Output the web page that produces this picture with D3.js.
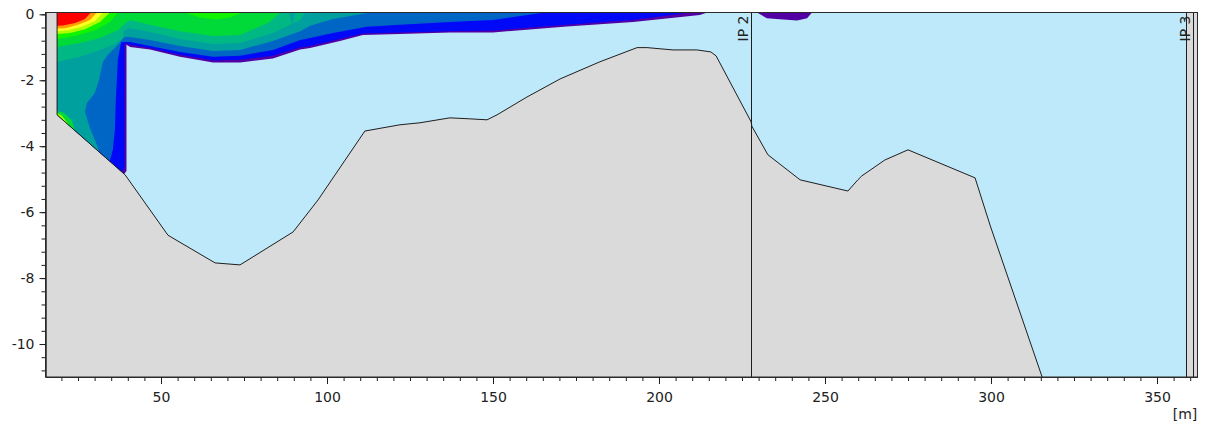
<!DOCTYPE html>
<html>
<head>
<meta charset="utf-8">
<script src="https://cdn.jsdelivr.net/npm/d3@7"></script>
<style>
  body { margin: 0; background: #fff; }
  svg { display: block; font-family: "DejaVu Sans", Verdana, sans-serif; }
</style>
</head>
<body>
<svg width="1208" height="428"></svg>
<script>
// axis ticks
const xMajor = [50, 100, 150, 200, 250, 300, 350];
const yMajor = [0, -2, -4, -6, -8, -10];

// river bed profile (station m, elevation m)
const bedX = [18.7, 39.2, 52.1, 66.3, 73.8, 89.8, 97.3, 111.4, 122.0, 128.0, 137.0, 143.0, 148.2, 151.2, 160.2, 170.2, 182.2, 193.4, 196.4, 204.2, 211.4, 215.6, 217.2, 227.7, 228.0, 232.8, 242.5, 256.9, 259.9, 261.1, 268.0, 275.0, 295.2, 299.7, 315.4];
const bedZ = [-3.05, -4.87, -6.70, -7.54, -7.60, -6.60, -5.63, -3.54, -3.35, -3.29, -3.14, -3.17, -3.20, -3.05, -2.51, -1.96, -1.44, -1.01, -1.01, -1.08, -1.08, -1.14, -1.26, -3.25, -3.40, -4.26, -5.02, -5.36, -5.02, -4.90, -4.42, -4.11, -4.96, -6.39, -11.0];

const leftX = 18.7;     // left bank
const waterEndX = 358.7;
const ipX = [227.7, 360.9];
const ipNames = ["IP 2", "IP 3"];

// contour bands, outermost first (station, elevation)
const bandPurple = [[18.7,0],[214.5,0],[212.3,-0.02],[192.2,-0.23],[172.3,-0.37],[150.0,-0.55],[137.0,-0.55],[122.0,-0.60],[110.8,-0.63],[103.9,-0.81],[94.9,-1.02],[91.9,-1.07],[83.7,-1.34],[73.8,-1.46],[65.7,-1.46],[55.7,-1.29],[46.7,-1.07],[40.7,-0.99],[39.6,-0.92],[39.6,-4.75],[38.9,-4.84],[18.7,-3.05]];
const bandBlue = [[18.7,0],[209.3,0],[192.2,-0.17],[172.3,-0.32],[150.0,-0.49],[137.0,-0.51],[122.0,-0.55],[110.8,-0.58],[103.9,-0.75],[94.9,-0.96],[91.9,-1.01],[83.7,-1.26],[73.8,-1.38],[65.7,-1.40],[55.7,-1.23],[46.7,-1.02],[40.7,-0.92],[39.0,-0.87],[39.0,-4.66],[38.2,-4.78],[18.7,-3.05]];
const bandMidBlue = [[18.7,0],[165.7,0],[150.0,-0.17],[137.0,-0.23],[122.0,-0.32],[112.0,-0.38],[101.8,-0.57],[94.9,-0.72],[91.9,-0.78],[83.7,-1.08],[73.8,-1.26],[65.7,-1.29],[55.7,-1.14],[46.7,-0.96],[40.7,-0.84],[38.0,-0.84],[37.0,-1.38],[36.4,-2.60],[36.1,-3.51],[35.5,-4.11],[34.6,-4.45],[18.7,-3.05]];
const bandTeal = [[18.7,0],[113.0,0],[101.8,-0.14],[94.9,-0.35],[91.9,-0.51],[83.7,-0.81],[73.8,-1.08],[65.7,-1.11],[55.7,-0.96],[46.7,-0.78],[40.7,-0.69],[38.9,-0.69],[37.0,-0.93],[34.0,-1.23],[32.5,-1.45],[31.3,-1.99],[30.1,-2.38],[27.7,-2.69],[27.1,-2.96],[28.6,-3.45],[30.7,-3.96],[31.3,-4.17],[18.7,-3.05]];
const bandSeaGreen = [[18.7,0],[88.6,0],[89.5,-0.33],[90.4,0],[93.4,0],[91.9,-0.17],[83.7,-0.57],[73.8,-0.87],[65.7,-0.90],[55.7,-0.75],[46.7,-0.54],[40.7,-0.42],[38.9,-0.48],[38.6,-0.72],[36.1,-0.90],[31.6,-1.08],[25.6,-1.29],[18.7,-1.45]];
const bandGreen = [[18.7,0],[85.8,0],[82.8,-0.23],[73.8,-0.63],[65.7,-0.66],[55.7,-0.51],[46.7,-0.32],[40.7,-0.17],[38.9,-0.29],[37.0,-0.48],[31.6,-0.72],[25.6,-0.87],[18.7,-0.99]];
const bandGreenSpot = [[18.7,-2.93],[20.8,-2.99],[23.2,-3.23],[24.1,-3.54],[18.7,-3.05]];
const bandBright = [[18.7,0],[37.0,0],[34.6,-0.23],[30.1,-0.48],[24.1,-0.66],[18.7,-0.75]];
const bandBrightBlob = [[57.2,0],[61.7,-0.10],[66.3,-0.16],[70.8,-0.10],[74.4,0]];
const bandLime = [[18.7,0],[34.6,0],[31.6,-0.23],[27.1,-0.45],[22.6,-0.57],[18.7,-0.60]];
const bandLimeSpot = [[18.7,-2.99],[20.2,-3.08],[22.0,-3.32],[22.3,-3.38],[18.7,-3.05]];
const bandYellow = [[18.7,0],[32.5,0],[30.1,-0.20],[26.2,-0.38],[22.0,-0.48],[18.7,-0.51]];
const bandOrange = [[18.7,0],[30.7,0],[28.6,-0.17],[25.0,-0.32],[21.1,-0.42],[18.7,-0.43]];
const bandRed = [[18.7,0],[28.9,0],[27.1,-0.14],[24.1,-0.26],[20.5,-0.34],[18.7,-0.35]];
const bandPurpleBlob = [[229.5,0],[232.5,-0.12],[236.4,-0.15],[241.6,-0.19],[244.6,-0.12],[246.1,0]];

const bands = [
  [bandPurple, "#5200a4"], [bandBlue, "#0008f8"], [bandMidBlue, "#0066c6"],
  [bandTeal, "#00a09e"], [bandSeaGreen, "#00b884"], [bandGreen, "#00da38"],
  [bandGreenSpot, "#00da38"], [bandBright, "#10f400"], [bandBrightBlob, "#10f400"],
  [bandLime, "#b0ff00"], [bandLimeSpot, "#90ff00"], [bandYellow, "#ffff20"],
  [bandOrange, "#ff9a00"], [bandRed, "#ff0000"], [bandPurpleBlob, "#5200a4"]
];

const svg = d3.select("svg");
const pLeft = 45.5, pTop = 12.5, pRight = 1197.5, pBottom = 377;
const yMax = 0.055;

const x = d3.scaleLinear().domain([15.21, 362.2]).range([pLeft, pRight]);
const y = d3.scaleLinear().domain([-11, yMax]).range([pBottom, pTop]);
// the water surface sits on the top frame
const yy = v => v >= 0 ? y(yMax) : y(v);

const shape = d3.line().x(d => x(d[0])).y(d => yy(d[1]));

svg.append("clipPath").attr("id", "plot")
  .append("rect").attr("x", pLeft).attr("y", pTop)
  .attr("width", pRight - pLeft).attr("height", pBottom - pTop);

const plot = svg.append("g").attr("clip-path", "url(#plot)");

// ground
plot.append("rect")
  .attr("x", pLeft).attr("y", pTop)
  .attr("width", pRight - pLeft).attr("height", pBottom - pTop)
  .attr("fill", "#dadada");

const bed = bedX.map((v, i) => [v, bedZ[i]]);

// water body
const water = [[leftX, 0], [waterEndX, 0], [waterEndX, -11]].concat(bed.slice().reverse());
plot.append("path")
  .attr("d", shape(water) + "Z")
  .attr("fill", "#bee9fb");

bands.forEach(([pts, col]) => {
  plot.append("path")
    .attr("d", shape(pts) + "Z")
    .attr("fill", col);
});

// bed line
plot.append("path")
  .attr("d", shape([[leftX, 0]].concat(bed)))
  .attr("fill", "none")
  .attr("stroke", "#1e1e1e")
  .attr("stroke-width", 1);

// right bank lines and IP lines
[waterEndX].concat(ipX).forEach(v => {
  plot.append("line")
    .attr("x1", Math.round(x(v)) + 0.5).attr("x2", Math.round(x(v)) + 0.5)
    .attr("y1", pTop).attr("y2", pBottom)
    .attr("stroke", "#1e1e1e");
});

ipX.forEach((v, i) => {
  const px = Math.round(x(v)) - 3;
  svg.append("text")
    .attr("transform", `translate(${px},${pTop + 3}) rotate(-90)`)
    .attr("text-anchor", "end")
    .attr("font-size", 14)
    .attr("fill", "#222")
    .text(ipNames[i]);
});

// frame
svg.append("rect")
  .attr("x", pLeft).attr("y", pTop)
  .attr("width", pRight - pLeft).attr("height", pBottom - pTop)
  .attr("fill", "none")
  .attr("stroke", "#2a2a2a");

// axes
const xMinor = d3.range(20, 361, 5);
const yMinor = d3.range(0, -11, -0.4);

svg.append("g").attr("transform", `translate(0,${pBottom})`)
  .call(d3.axisBottom(x).tickValues(xMinor).tickSize(4).tickFormat("").tickSizeOuter(0));
svg.append("g").attr("transform", `translate(0,${pBottom})`)
  .call(d3.axisBottom(x).tickValues(xMajor).tickSize(7).tickPadding(8).tickSizeOuter(0)
    .tickFormat(d => String(d)));
svg.append("g").attr("transform", `translate(${pLeft},0)`)
  .call(d3.axisLeft(y).tickValues(yMinor).tickSize(4).tickFormat("").tickSizeOuter(0));
svg.append("g").attr("transform", `translate(${pLeft},0)`)
  .call(d3.axisLeft(y).tickValues(yMajor).tickSize(6).tickPadding(5).tickSizeOuter(0)
    .tickFormat(d => String(d)));

svg.selectAll(".tick line").attr("stroke", "#1e1e1e");
svg.selectAll(".domain").attr("stroke", "#2a2a2a");
svg.selectAll(".tick text")
  .attr("font-size", 14)
  .attr("font-family", "DejaVu Sans, Verdana, sans-serif")
  .attr("fill", "#222");

svg.append("text")
  .attr("x", 1185).attr("y", 419)
  .attr("text-anchor", "middle")
  .attr("font-size", 14)
  .attr("fill", "#222")
  .text("[m]");
</script>
</body>
</html>
